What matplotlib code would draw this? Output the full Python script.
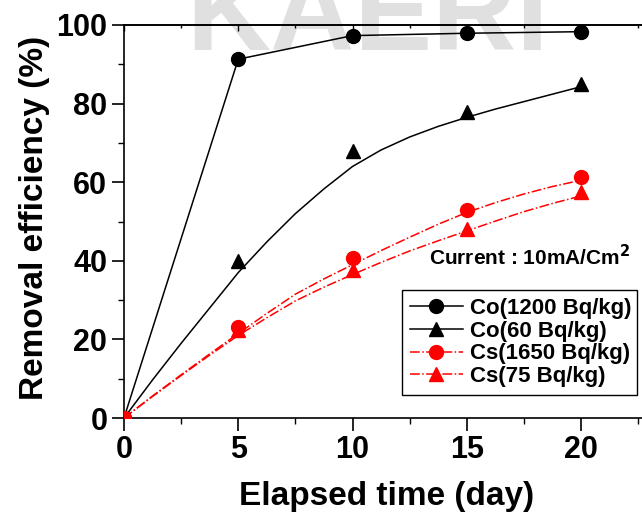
import matplotlib
matplotlib.use("Agg")
import matplotlib.pyplot as plt
from matplotlib.lines import Line2D
from matplotlib.ticker import FixedLocator

plt.rcParams['font.family'] = ['Liberation Sans', 'DejaVu Sans']
plt.rcParams['font.weight'] = 'bold'

# measured points
days = [0, 5, 10, 15, 20]
co_1200 = [0, 91.3, 97.3, 97.9, 98.3]
co_60 = [0, 40.0, 67.9, 77.8, 85.0]
cs_1650 = [0, 23.1, 40.6, 52.9, 61.2]
cs_75 = [0, 22.4, 37.7, 48.1, 57.6]

# fitted curves
fit_days = [0, 1.25, 2.5, 3.75, 5, 6.25, 7.5, 8.75, 10, 11.25, 12.5,
            13.75, 15, 16.25, 17.5, 18.75, 20]
co_60_fit = [0, 9.7, 19, 28, 37, 44.8, 52, 58.3, 64, 68.2, 71.5,
             74.2, 76.5, 78.6, 80.5, 82.4, 84.3]
cs_1650_fit = [0, 5.6, 11, 16.3, 21.5, 26.6, 31.5, 35.4, 39, 42.6, 46,
               49.3, 52.3, 54.8, 57, 58.9, 60.5]
cs_75_fit = [0, 5.5, 10.8, 16, 21, 25.5, 29.8, 33.3, 36.5, 39.6, 42.5,
             45.1, 47.6, 50.1, 52.5, 54.6, 56.5]

labels = ['Co(1200 Bq/kg)', 'Co(60 Bq/kg)', 'Cs(1650 Bq/kg)', 'Cs(75 Bq/kg)']
x_major = [0, 5, 10, 15, 20]
x_minor = [2.5, 7.5, 12.5, 17.5, 22.5]
y_major = [0, 20, 40, 60, 80, 100]
y_minor = [10, 30, 50, 70, 90]

W, H = 642, 513
fig = plt.figure(figsize=(W / 100, H / 100), dpi=100)

fig.text(368 / W, 1 - 50 / H, 'KAERI', fontsize=84, color='#e0e0e0',
         ha='center', va='baseline', fontweight='bold', zorder=-5)

x0, x1 = 124, 124 + 25 * 22.85
ytop, ybot = 25, 418
ax = fig.add_axes([x0 / W, 1 - ybot / H, (x1 - x0) / W, (ybot - ytop) / H])
ax.set_facecolor('none')

# Co 1200: connected points
ax.plot(days, co_1200, color='black', lw=1.1, marker='o', ms=10, zorder=4)
# Co 60
ax.plot(fit_days, co_60_fit, color='black', lw=1.1, zorder=3)
ax.plot(days, co_60, ls='none', color='black', marker='^', ms=10.5, zorder=4)
# Cs curves
ax.plot(fit_days, cs_1650_fit, color='red', lw=1.1, ls='-.', zorder=3)
ax.plot(days, cs_1650, ls='none', color='red', marker='o', ms=10, zorder=4)
ax.plot(fit_days, cs_75_fit, color='red', lw=1.1, ls='-.', zorder=3)
ax.plot(days, cs_75, ls='none', color='red', marker='^', ms=10.5, zorder=4)

ax.set_xlim(0, 25)
ax.set_ylim(0, 100)
ax.xaxis.set_major_locator(FixedLocator(x_major))
ax.xaxis.set_minor_locator(FixedLocator(x_minor))
ax.yaxis.set_major_locator(FixedLocator(y_major))
ax.yaxis.set_minor_locator(FixedLocator(y_minor))
ax.tick_params(which='major', direction='out', length=9, width=1.2, labelsize=22, pad=3)
ax.tick_params(which='minor', direction='out', length=4, width=1.0)
for lab in ax.get_xticklabels() + ax.get_yticklabels():
    lab.set_fontweight('bold')
for s in ['left', 'bottom', 'top']:
    ax.spines[s].set_linewidth(1.2)
ax.spines['right'].set_visible(False)

sec = ax.secondary_xaxis('top')
sec.xaxis.set_major_locator(FixedLocator(x_major))
sec.xaxis.set_minor_locator(FixedLocator(x_minor))
sec.tick_params(which='major', direction='in', length=4, width=1.0, labeltop=False)
sec.tick_params(which='minor', direction='in', length=2.5, width=1.0)
sec.spines['top'].set_linewidth(1.2)

ax.set_xlabel('Elapsed time (day)', fontsize=24, fontweight='bold')
ax.xaxis.set_label_coords((387 - x0) / (x1 - x0), (ybot - 481) / (ybot - ytop))
ax.set_ylabel('Removal efficiency (%)', fontsize=24, fontweight='bold')
ax.yaxis.set_label_coords((50 - x0) / (x1 - x0), (ybot - 218) / (ybot - ytop))

handles = [
    Line2D([], [], color='black', lw=1.1, marker='o', ms=10),
    Line2D([], [], color='black', lw=1.1, marker='^', ms=10.5),
    Line2D([], [], color='red', lw=1.1, ls='-.', marker='o', ms=10),
    Line2D([], [], color='red', lw=1.1, ls='-.', marker='^', ms=10.5),
]
leg = ax.legend(handles, labels, loc='lower left',
                bbox_to_anchor=((402 - x0) / (x1 - x0), (ybot - 395) / (ybot - ytop),
                                (637 - 402) / (x1 - x0), (395 - 275) / (ybot - ytop)),
                mode='expand', fancybox=False, framealpha=1, edgecolor='black',
                prop={'size': 16, 'weight': 'bold'}, handlelength=2.4,
                handletextpad=0.3, labelspacing=0.08, borderpad=0.35, borderaxespad=0)
leg.get_frame().set_linewidth(1.0)

fig.text(630 / W, 1 - 257 / H, 'Current : 10mA/Cm$^\\mathbf{2}$', fontsize=15,
         fontweight='bold', ha='right', va='center')

fig.savefig('out.png', dpi=100)
